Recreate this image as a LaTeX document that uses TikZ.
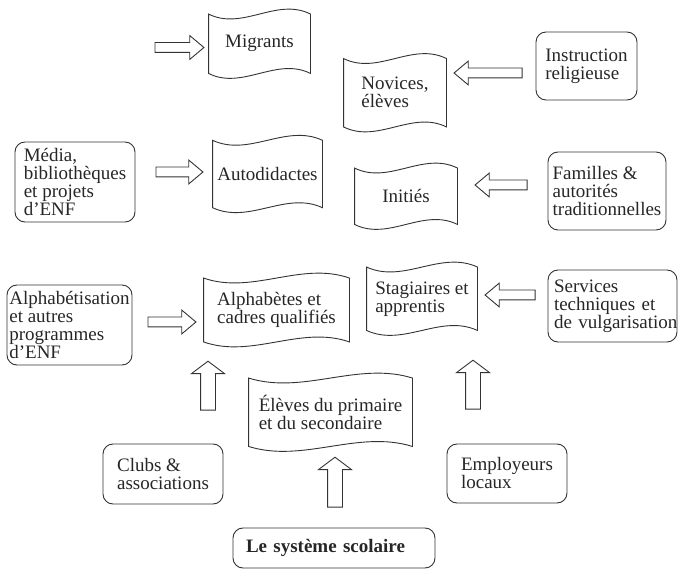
\documentclass[tikz,border=0pt]{standalone}
\usepackage{fontspec}
\setmainfont{Liberation Serif}
\usetikzlibrary{shapes.arrows, calc}
\tikzstyle{flag} = [rectangle, align=left, inner sep=2]
\tikzstyle{wave} = [draw=black!80]
\tikzstyle{box} = [rectangle, rounded corners=10, draw=black!80, align=left, inner sep=0]
\tikzstyle{rarrow} = [single arrow, draw=black!80, single arrow head extend=7, single arrow tip angle=80, inner xsep=0, inner ysep=4.5]
\tikzstyle{larrow} = [rarrow, rotate=180]
\tikzstyle{uarrow} = [single arrow, draw=black!80, single arrow head extend=9, single arrow tip angle=106, inner xsep=0, inner ysep=7, rotate=90]

\begin{document}
\begin{tikzpicture}[x=1pt, y=-1pt, line width=0.9pt, every node/.style={font=\fontsize{19}{18}\selectfont, text=black!85}]
\useasboundingbox (0,0) rectangle (678,569);
% groups (flags)
\node (migr) [flag, minimum width=101, minimum height=58.5] at (259.5,43.75) {Migrants};
\node (nov) [flag, minimum width=102, minimum height=67.5] at (395,92.75) {Novices,\\élèves};
\node (auto) [flag, minimum width=109, minimum height=66.5] at (267.5,174) {Autodidactes};
\node (init) [flag, minimum width=102, minimum height=55.5] at (406,196.25) {Initiés};
\node (alph) [flag, minimum width=145, minimum height=63] at (276.5,310) {Alphabètes et\\cadres qualifiés};
\node (stag) [flag, minimum width=110, minimum height=62.5] at (422,298.75) {Stagiaires et\\apprentis};
\node (prim) [flag, minimum width=163, minimum height=67.5] at (330.5,412.25) {Élèves du primaire\\et du secondaire};
\foreach \n in {migr,nov,auto,init,alph,stag,prim}
  \draw [wave] (\n.north west)
    .. controls ($(\n.north west)!.333!(\n.north east)+(0,17)$) and ($(\n.north west)!.667!(\n.north east)+(0,-17)$) .. (\n.north east)
    -- (\n.south east)
    .. controls ($(\n.south west)!.667!(\n.south east)+(0,-17)$) and ($(\n.south west)!.333!(\n.south east)+(0,17)$) .. (\n.south west)
    -- cycle;
% sources
\node (instr) [box, minimum width=101, minimum height=68] at (586.5,66) {Instruction\\religieuse};
\node (media) [box, minimum width=120, minimum height=80] at (75,182) {Média,\\bibliothèques\\et projets\\d’ENF};
\node (fam) [box, minimum width=118, minimum height=78] at (607,191) {Familles \&\\autorités\\traditionnelles};
\node (alpha) [box, minimum width=125, minimum height=80] at (69.5,325) {Alphabétisation\\et autres\\programmes\\d’ENF};
\node (serv) [box, minimum width=129, minimum height=72, text width=117] at (612.5,306) {Services\\techniques et\\\mbox{de vulgarisation}};
\node (clubs) [box, minimum width=120, minimum height=60] at (163,474) {Clubs \&\\associations};
\node (empl) [box, minimum width=120, minimum height=59] at (507,473.5) {Employeurs\\locaux};
\node (ecole) [box, minimum width=202, minimum height=40, text width=176] at (334,548) {\bfseries Le système scolaire};
% block arrows
\node (a1) [rarrow, minimum height=49] at (176.5,47.5) {};
\node (a2) [larrow, minimum height=68] at (491,73) {};
\node (a3) [rarrow, minimum height=47] at (176.5,172) {};
\node (a4) [larrow, minimum height=52] at (504,185) {};
\node (a5) [rarrow, minimum height=48] at (169,322) {};
\node (a6) [larrow, minimum height=50] at (513,295) {};
\node (a7) [uarrow, minimum height=49] at (208,388.5) {};
\node (a8) [uarrow, minimum height=50] at (335,485) {};
\node (a9) [uarrow, minimum height=49] at (473,387.5) {};
\end{tikzpicture}
\end{document}
